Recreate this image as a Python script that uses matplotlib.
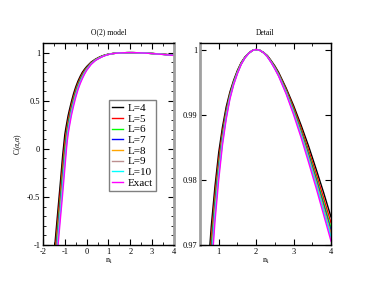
import matplotlib
matplotlib.use('Agg')
import matplotlib.pyplot as plt
from matplotlib.ticker import MultipleLocator, FuncFormatter

plt.rcParams['font.family'] = ['Liberation Serif', 'DejaVu Serif']
plt.rcParams['mathtext.fontset'] = 'stix'

# n_i grid shared by all curves
n_i = [-1.5, -1.4, -1.3, -1.2, -1.1, -1.0, -0.95, -0.9, -0.85, -0.8, -0.7, -0.6,
       -0.5, -0.4, -0.3, -0.2, -0.1, 0.0, 0.2, 0.4, 0.6, 0.7, 0.8, 0.9, 1.0,
       1.1, 1.2, 1.3, 1.4, 1.5, 1.6, 1.7, 1.8, 1.9, 2.0, 2.1, 2.2, 2.3, 2.4,
       2.5, 2.6, 2.8, 3.0, 3.2, 3.4, 3.6, 3.8, 4.0]

c_L4 = [-1.11, -0.85, -0.595, -0.338, -0.07, 0.15, 0.22, 0.283, 0.345, 0.395, 0.49, 0.574,
        0.644, 0.703, 0.752, 0.795, 0.827, 0.855, 0.901, 0.932, 0.9556, 0.9649, 0.9728, 0.9790, 0.9842,
        0.9881, 0.9912, 0.9935, 0.9953, 0.9968, 0.9980, 0.99885, 0.99945, 0.99986, 1.0, 0.99988, 0.99955, 0.99907, 0.9983,
        0.99748, 0.9965, 0.9941, 0.9914, 0.9884, 0.9852, 0.9817, 0.9781, 0.9743]
c_L5 = [-1.201, -0.941, -0.686, -0.430, -0.166, 0.065, 0.150, 0.229, 0.298, 0.353, 0.455, 0.543,
        0.617, 0.681, 0.733, 0.779, 0.815, 0.845, 0.895, 0.929, 0.9528, 0.9627, 0.9710, 0.9777, 0.9832,
        0.9874, 0.9907, 0.9932, 0.9951, 0.99668, 0.9979, 0.99881, 0.99944, 0.99985, 1.0, 0.99987, 0.9995, 0.99902, 0.99823,
        0.99736, 0.99634, 0.99391, 0.99109, 0.98797, 0.98458, 0.98103, 0.97727, 0.9734]
c_L6 = [-1.281, -1.021, -0.766, -0.510, -0.250, -0.010, 0.090, 0.182, 0.257, 0.316, 0.425, 0.516,
        0.595, 0.662, 0.717, 0.765, 0.804, 0.837, 0.890, 0.926, 0.9504, 0.9607, 0.9695, 0.9766, 0.9823,
        0.9868, 0.9903, 0.9930, 0.9950, 0.99658, 0.99784, 0.99878, 0.99943, 0.99985, 1.0, 0.99987, 0.9995, 0.99897, 0.99817,
        0.99726, 0.99622, 0.99372, 0.99079, 0.98756, 0.98406, 0.98041, 0.97656, 0.97263]
c_L7 = [-1.330, -1.070, -0.815, -0.560, -0.302, -0.056, 0.052, 0.153, 0.232, 0.294, 0.406, 0.499,
        0.581, 0.650, 0.707, 0.756, 0.797, 0.832, 0.887, 0.924, 0.9489, 0.9595, 0.9685, 0.9759, 0.9818,
        0.9865, 0.9901, 0.9929, 0.9949, 0.99651, 0.9978, 0.99876, 0.99942, 0.99985, 1.0, 0.99987, 0.9995, 0.99894, 0.99813,
        0.9972, 0.99614, 0.99359, 0.9906, 0.98731, 0.98374, 0.98003, 0.97612, 0.97215]
c_L8 = [-1.368, -1.108, -0.853, -0.598, -0.342, -0.091, 0.023, 0.131, 0.212, 0.276, 0.391, 0.486,
        0.570, 0.641, 0.699, 0.749, 0.792, 0.828, 0.884, 0.923, 0.9477, 0.9586, 0.9678, 0.9753, 0.9814,
        0.9862, 0.9899, 0.9928, 0.9948, 0.99646, 0.9978, 0.99875, 0.99941, 0.99985, 1.0, 0.99987, 0.9995, 0.99892, 0.9981,
        0.99715, 0.99609, 0.9935, 0.99046, 0.98712, 0.98349, 0.97974, 0.97578, 0.97178]
c_L9 = [-1.399, -1.139, -0.884, -0.628, -0.374, -0.120, 0.000, 0.113, 0.197, 0.262, 0.380, 0.476,
        0.561, 0.634, 0.693, 0.744, 0.788, 0.825, 0.882, 0.921, 0.9468, 0.9578, 0.9672, 0.9749, 0.9810,
        0.9860, 0.9897, 0.9927, 0.9948, 0.99642, 0.99776, 0.99874, 0.99941, 0.99985, 1.0, 0.99987, 0.9995, 0.9989, 0.99807,
        0.99712, 0.99604, 0.99343, 0.99035, 0.98696, 0.98329, 0.9795, 0.97551, 0.97149]
c_L10 = [-1.429, -1.169, -0.914, -0.659, -0.406, -0.148, -0.024, 0.096, 0.181, 0.248, 0.368, 0.466,
         0.552, 0.626, 0.687, 0.739, 0.783, 0.821, 0.880, 0.920, 0.9459, 0.9571, 0.9666, 0.9745, 0.9807,
         0.9857, 0.9896, 0.9926, 0.9947, 0.99638, 0.99774, 0.99872, 0.9994, 0.99985, 1.0, 0.99987, 0.9995, 0.99889, 0.99805,
         0.99708, 0.99599, 0.99335, 0.99023, 0.98681, 0.9831, 0.97927, 0.97524, 0.97119]
c_exact = [-1.49, -1.23, -0.975, -0.72, -0.47, -0.205, -0.07, 0.06, 0.15, 0.22, 0.345, 0.445,
           0.535, 0.612, 0.675, 0.728, 0.775, 0.815, 0.876, 0.918, 0.944, 0.9556, 0.9654, 0.9736, 0.9800,
           0.9853, 0.9893, 0.9924, 0.9946, 0.9963, 0.9977, 0.9987, 0.9994, 0.99985, 1.0, 0.99987, 0.9995, 0.99888, 0.9980,
           0.9970, 0.9959, 0.9932, 0.9900, 0.9865, 0.9827, 0.9788, 0.9747, 0.9706]

labels = ['L=4', 'L=5', 'L=6', 'L=7', 'L=8', 'L=9', 'L=10', 'Exact']
colors = ['black', 'red', '#00ff00', 'blue', '#ffa500', '#bc8f8f', '#00ffff', '#ff00ff']
series = [c_L4, c_L5, c_L6, c_L7, c_L8, c_L9, c_L10, c_exact]

fig = plt.figure(figsize=(3.74, 2.89), dpi=100)
ax1 = fig.add_axes([43/374, 1 - 245/289, 131/374, 202/289])
ax2 = fig.add_axes([200/374, 1 - 245/289, 131/374, 202/289])

for ax in (ax1, ax2):
    for y, c, lab in zip(series, colors, labels):
        ax.plot(n_i, y, color=c, lw=1.0, label=lab)
    ax.tick_params(which='both', direction='in', top=True, right=True,
                   labelsize=6, pad=2)
    ax.tick_params(which='major', length=4, width=0.8)
    ax.tick_params(which='minor', length=2, width=0.6)
    for s in ax.spines.values():
        s.set_linewidth(1.0)
    ax.set_xlabel(r'$\mathrm{n_i}$', fontsize=6, labelpad=1)

fmt = FuncFormatter(lambda v, p: ('%g' % round(v, 4)))

# left panel
ax1.set_xlim(-2, 4)
ax1.set_ylim(-1, 1.1)
ax1.xaxis.set_major_locator(MultipleLocator(1))
ax1.xaxis.set_minor_locator(MultipleLocator(0.5))
ax1.yaxis.set_major_locator(MultipleLocator(0.5))
ax1.yaxis.set_minor_locator(MultipleLocator(0.1))
ax1.xaxis.set_major_formatter(fmt)
ax1.yaxis.set_major_formatter(fmt)
ax1.set_title('O(2) model', fontsize=5.5, pad=6)
ax1.set_ylabel(r'C($\alpha$,$\alpha$)', fontsize=5.5, labelpad=2)
ax1.spines['right'].set_color('#a0a0a0')
ax1.spines['right'].set_linewidth(2.0)
leg = ax1.legend(loc='upper left', bbox_to_anchor=(0.504, 0.718), borderaxespad=0,
                 fontsize=8, labelspacing=0.08, handlelength=0.95, handletextpad=0.45,
                 borderpad=0.3, fancybox=False, framealpha=1)
leg.get_frame().set_edgecolor('#808080')
leg.get_frame().set_linewidth(1.0)

# right panel
ax2.set_xlim(0.5, 4)
ax2.set_ylim(0.97, 1.001)
ax2.xaxis.set_major_locator(MultipleLocator(1))
ax2.xaxis.set_minor_locator(MultipleLocator(0.5))
ax2.yaxis.set_major_locator(MultipleLocator(0.01))
ax2.xaxis.set_major_formatter(fmt)
ax2.yaxis.set_major_formatter(fmt)
ax2.set_title('Detail', fontsize=5.5, pad=6)
ax2.spines['left'].set_color('#a0a0a0')
ax2.spines['left'].set_linewidth(2.0)

fig.savefig('out.png', dpi=100)
